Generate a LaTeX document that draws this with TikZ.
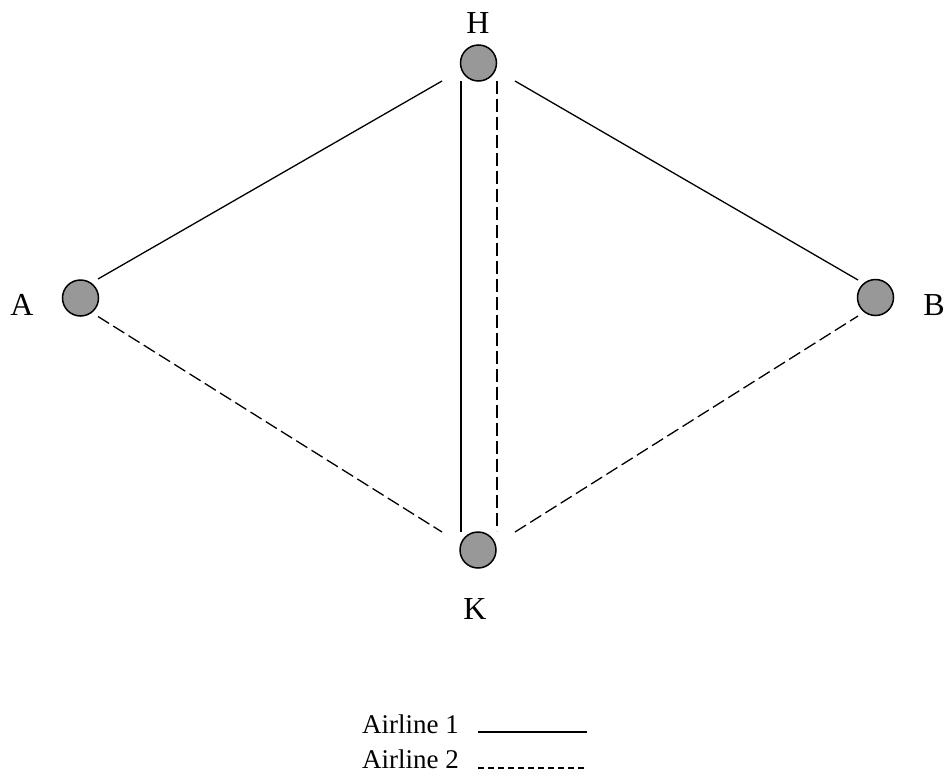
\documentclass[tikz,border=0pt]{standalone}
\usepackage{fontspec}
\setmainfont{Liberation Serif}
\usetikzlibrary{calc}
\definecolor{nodegray}{RGB}{152,152,152}
\tikzset{
  city/.style={circle, draw=black, line width=1.5pt, fill=nodegray, minimum size=36pt, inner sep=0pt},
  lbl/.style={anchor=base, inner sep=0pt, font=\fontsize{32}{36}\selectfont},
  leg/.style={anchor=base east, inner sep=0pt, font=\fontsize{27}{30}\selectfont},
  air1/.style={line width=1.3pt},
  air2/.style={line width=1.3pt, dash pattern=on 13pt off 5pt},
  legline1/.style={line width=2pt},
  legline2/.style={line width=2pt, dash pattern=on 6pt off 4pt}
}
\begin{document}
\begin{tikzpicture}[x=1pt, y=-1pt]
\useasboundingbox (0,0) rectangle (951,782);
\node[city] (A) at (80.5,298) {};
\node[city] (B) at (875.5,297.5) {};
\node[city] (H) at (478.5,63) {};
\node[city] (K) at (478,550) {};
\node[lbl] (lA) at (22,315) {A};
\node[lbl] (lB) at (934,315) {B};
\node[lbl] (lH) at (478,33) {H};
\node[lbl] (lK) at (475,619) {K};
% Airline 1
\draw[air1] ($(A)+(17.5,-19)$) -- ($(H)+(-36.5,18)$);
\draw[air1] ($(H)+(36.5,18)$) -- ($(B)+(-17.5,-17.5)$);
\draw[air1] ($(H)+(-17.5,18)$) -- ($(K)+(-17,-18)$);
% Airline 2
\draw[air2] ($(H)+(18.5,18)$) -- ($(K)+(19,-19)$);
\draw[air2] ($(A)+(17.5,18.5)$) -- ($(K)+(-36,-18)$);
\draw[air2] ($(K)+(37,-18)$) -- ($(B)+(-17.5,18.5)$);
% Legend
\node[leg] (L1) at (459,733) {Airline 1};
\node[leg] (L2) at (459,768) {Airline 2};
\coordinate (L1e) at (587,732);
\coordinate (L2e) at (587,768);
\draw[legline1] ($(L1.base east)+(19,-1)$) -- (L1e);
\draw[legline2] ($(L2.base east)+(19,0)$) -- (L2e);
\end{tikzpicture}
\end{document}
